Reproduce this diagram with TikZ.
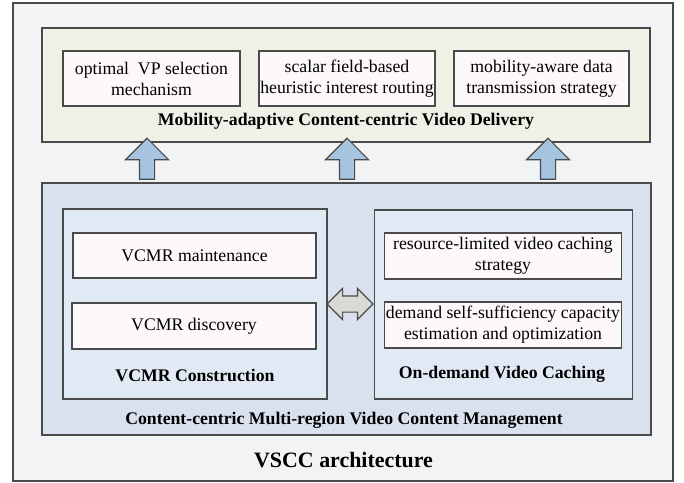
\documentclass[tikz,border=0pt]{standalone}
\usepackage{fontspec}
\setmainfont{Liberation Serif}
\usetikzlibrary{shapes.arrows}
\definecolor{framegray}{HTML}{4A4A4A}
\definecolor{outergray}{HTML}{F2F3F5}
\definecolor{deliverygreen}{HTML}{EFF1E7}
\definecolor{itemwhite}{HTML}{FDF8F9}
\definecolor{managementblue}{HTML}{DAE1EE}
\definecolor{innerblue}{HTML}{E1EAF4}
\definecolor{arrowblue}{HTML}{A6C3DF}
\definecolor{swapgray}{HTML}{D9D9D6}
\tikzset{
  panel/.style={draw=framegray, line width=1.1bp, inner sep=0pt},
  item/.style={panel, fill=itemwhite, align=center, font=\fontsize{17.8}{21}\selectfont},
  caption/.style={font=\fontsize{17.8}{21}\selectfont\bfseries, inner sep=0pt},
  uparrow/.style={single arrow, draw=framegray, fill=arrowblue, line width=1.1bp,
    shape border rotate=90, minimum width=42bp, minimum height=41bp,
    single arrow head extend=14bp, single arrow head indent=0pt, inner sep=7bp},
}
\begin{document}
\begin{tikzpicture}[x=1bp,y=-1bp]
\useasboundingbox (0,0) rectangle (684,483);
\node[panel, fill=outergray, minimum width=660bp, minimum height=478bp] (vscc) at (343,242) {};
% upper layer
\node[panel, fill=deliverygreen, minimum width=608bp, minimum height=114bp] (delivery) at (346,85) {};
\node[item, minimum width=177bp, minimum height=55bp] (vp) at (151.5,78.5) {optimal\ \ VP selection\\mechanism};
\node[item, minimum width=176bp, minimum height=55bp] (routing) at (347,78.5) {scalar field-based\\heuristic interest routing};
\node[item, minimum width=175bp, minimum height=55bp] (transmission) at (541.5,78.5) {mobility-aware data\\transmission strategy};
\node[caption] (deliverytitle) at (346,121) {Mobility-adaptive Content-centric Video Delivery};
% lower layer
\node[panel, fill=managementblue, minimum width=609bp, minimum height=252bp] (management) at (346.5,309) {};
\node[panel, fill=innerblue, minimum width=264bp, minimum height=190bp] (construction) at (195,304) {};
\node[item, minimum width=243bp, minimum height=45bp] (maintenance) at (194.5,255.5) {VCMR maintenance};
\node[item, minimum width=244bp, minimum height=46bp] (discovery) at (194,326) {VCMR discovery};
\node[caption] (constructiontitle) at (195,375) {VCMR Construction};
\node[panel, fill=innerblue, minimum width=258bp, minimum height=189bp] (caching) at (503.5,304.5) {};
\node[item, minimum width=237bp, minimum height=46bp] (resource) at (503,256) {resource-limited video caching\\strategy};
\node[item, minimum width=237bp, minimum height=46bp] (capacity) at (503,325) {demand self-sufficiency capacity\\estimation and optimization};
\node[caption] (cachingtitle) at (502,374) {On-demand Video Caching};
\node[caption] (managementtitle) at (344,420) {Content-centric Multi-region Video Content Management};
\node[caption, font=\fontsize{22}{26}\selectfont\bfseries] (vscctitle) at (343.5,460) {VSCC architecture};
% arrows
\foreach \x/\name in {147/up1, 347/up2, 548/up3}
{
    \node[uparrow] (\name) at (\x,162.5) {};
}
\node[double arrow, draw=framegray, fill=swapgray, line width=1.1bp, minimum width=30bp,
  minimum height=46bp, double arrow head extend=7.5bp, inner sep=7.5bp] (swap) at (350,304) {};
\end{tikzpicture}
\end{document}
